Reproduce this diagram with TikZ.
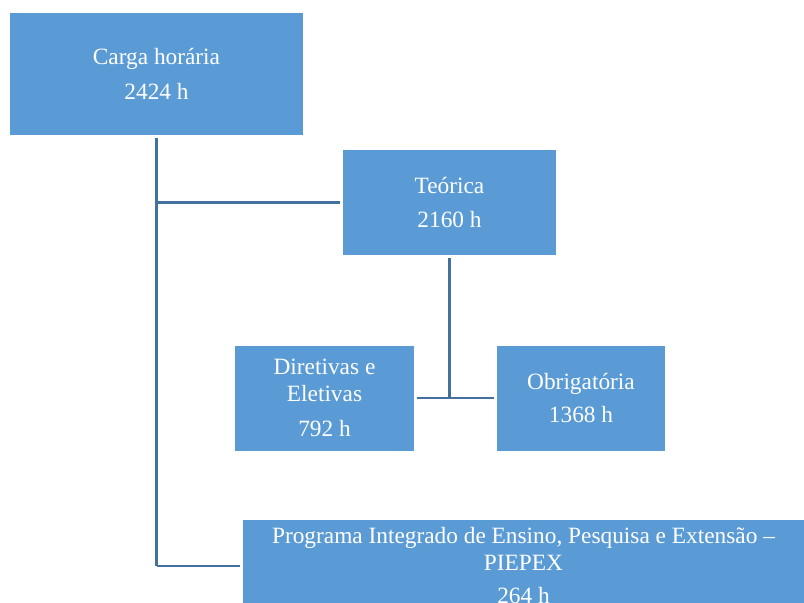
\documentclass[tikz,border=0pt]{standalone}
\usepackage{fontspec}
\setmainfont{Liberation Serif}
\usepackage{xcolor}
\usetikzlibrary{positioning,calc}
\definecolor{boxblue}{RGB}{91,155,213}
\definecolor{lineblue}{RGB}{65,113,156}
\begin{document}
\begin{tikzpicture}[x=0.75pt,y=-0.75pt,
		blk/.style={fill=boxblue,text=white,inner sep=0pt,align=center,
			font=\fontsize{17.5}{20}\selectfont},
		link/.style={draw=lineblue,line width=2.2pt,shorten <=2pt,shorten >=2pt}]
		\clip (0,0) rectangle (804,603);
		\node[blk,minimum width=219.75pt,minimum height=91.5pt] (carga) at (156.5,74) {Carga horária\\[6pt]2424 h};
		\node[blk,minimum width=159.75pt,minimum height=78.75pt] (teorica) at (449.5,202.5) {Teórica\\[5pt]2160 h};
		\node[blk,minimum width=134.25pt,minimum height=78.75pt] (diret) at (324.5,398) {Diretivas e\\Eletivas\\[6pt]792 h};
		\node[blk,minimum width=126pt,minimum height=78.75pt] (obrig) at (581,398) {Obrigatória\\[5pt]1368 h};
		\node[blk,minimum width=420.75pt,minimum height=69pt] (piepex) at (523.5,566) {Programa Integrado de Ensino, Pesquisa e Extensão –\\PIEPEX\\[5pt]264 h};
		\coordinate (cbot) at (carga.south |- piepex.west);
		\coordinate (cmid) at (carga.south |- teorica.west);
		\coordinate (tbot) at (teorica.south |- diret.east);
		\draw[link,shorten >=0pt] (carga.south) -- (cbot);
		\draw[link,shorten <=0pt] (cbot) -- (piepex.west);
		\draw[link,shorten <=0pt] (cmid) -- (teorica.west);
		\draw[link,shorten >=0pt] (teorica.south) -- (tbot);
		\draw[link] (diret.east) -- (obrig.west);
\end{tikzpicture}
\end{document}
